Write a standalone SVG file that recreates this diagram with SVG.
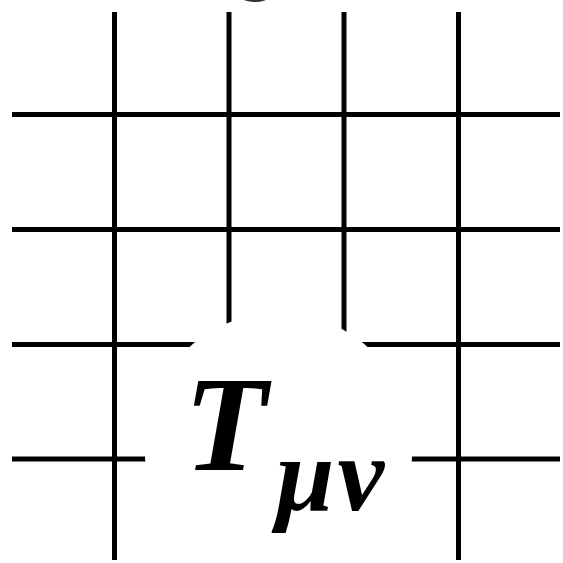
<svg xmlns="http://www.w3.org/2000/svg" width="563" height="563" viewBox="0 0 563 563">
  <style>
    .grid line { stroke: #000; stroke-width: 5; }
    .tex { font-family: "Liberation Serif", "Times New Roman", serif; font-style: italic; font-weight: bold; fill: #000; }
  </style>
  <rect x="0" y="0" width="563" height="563" fill="#fff"/>
  <g id="top-label">
    <text x="256" y="-19" font-family="Liberation Sans, Arial, sans-serif" font-size="100" fill="#333" text-anchor="middle">g</text>
  </g>
  <g id="grid" class="grid">
    <line x1="114.5" y1="12" x2="114.5" y2="560"/>
    <line x1="229" y1="12" x2="229" y2="560"/>
    <line x1="344" y1="12" x2="344" y2="560"/>
    <line x1="458.5" y1="12" x2="458.5" y2="560"/>
    <line x1="12" y1="114.5" x2="560" y2="114.5"/>
    <line x1="12" y1="229.5" x2="560" y2="229.5"/>
    <line x1="12" y1="344.5" x2="560" y2="344.5"/>
    <line x1="12" y1="459" x2="560" y2="459"/>
  </g>
  <g id="tensor">
    <circle cx="278.5" cy="447" r="134" fill="#fff"/>
    <text class="tex" x="184" y="470" font-size="136">T</text>
    <text class="tex" x="276" y="510" font-size="105" letter-spacing="3">μν</text>
  </g>
</svg>
